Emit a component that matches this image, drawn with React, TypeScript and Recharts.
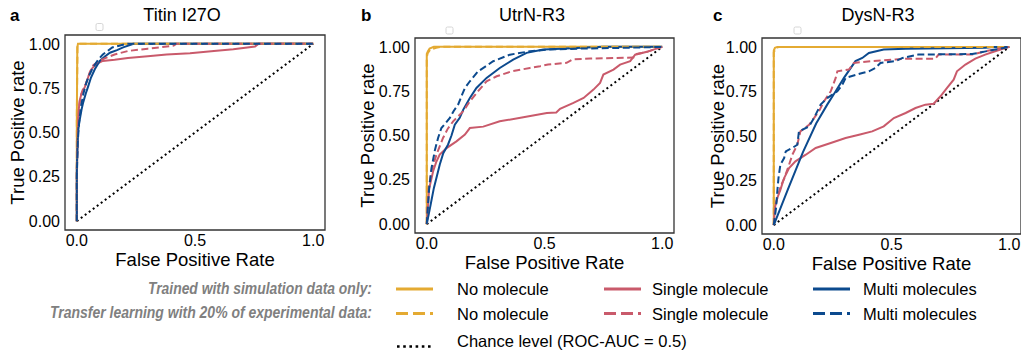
import React from 'react';
import { LineChart, Line, XAxis, YAxis, ReferenceArea } from 'recharts';

type Pt = [number, number];

// ---------- axis ticks ----------
const FPR_TICKS = [0, 0.5, 1];
const TPR_TICKS = [0, 0.25, 0.5, 0.75, 1];
const CHANCE: Pt[] = [[0, 0], [1, 1]];

// ---------- panel a : Titin I27O ----------
const titinNoneSim: Pt[] = [[0, 0], [0, 0.55], [0.002, 0.98], [0.005, 1], [1, 1]];
const titinNoneTL: Pt[] = [[0, 0], [0, 0.6], [0.003, 0.99], [0.008, 1], [1, 1]];
const titinSingleSim: Pt[] = [[0, 0], [0, 0.25], [0.003, 0.45], [0.006, 0.6], [0.012, 0.68], [0.02, 0.72], [0.035, 0.76], [0.05, 0.82], [0.062, 0.857], [0.08, 0.885], [0.11, 0.904], [0.16, 0.91], [0.216, 0.92], [0.3, 0.93], [0.38, 0.94], [0.479, 0.947], [0.58, 0.96], [0.662, 0.97], [0.754, 0.985], [0.768, 1], [1, 1]];
const titinSingleTL: Pt[] = [[0, 0], [0, 0.3], [0.004, 0.5], [0.008, 0.62], [0.015, 0.7], [0.025, 0.74], [0.04, 0.78], [0.055, 0.84], [0.07, 0.88], [0.09, 0.9], [0.12, 0.92], [0.16, 0.94], [0.217, 0.96], [0.3, 0.973], [0.35, 0.98], [0.41, 0.99], [0.42, 1], [1, 1]];
const titinMultiSim: Pt[] = [[0, 0], [0, 0.3], [0.005, 0.5], [0.01, 0.555], [0.02, 0.63], [0.027, 0.67], [0.038, 0.72], [0.048, 0.76], [0.06, 0.81], [0.076, 0.857], [0.097, 0.904], [0.12, 0.93], [0.14, 0.95], [0.17, 0.965], [0.196, 0.98], [0.24, 1], [1, 1]];
const titinMultiTL: Pt[] = [[0, 0], [0, 0.25], [0.004, 0.45], [0.01, 0.56], [0.018, 0.65], [0.028, 0.72], [0.04, 0.78], [0.055, 0.83], [0.07, 0.87], [0.09, 0.91], [0.11, 0.94], [0.13, 0.96], [0.15, 0.98], [0.21, 1], [1, 1]];

// ---------- panel b : UtrN-R3 ----------
const utrnNoneSim: Pt[] = [[0, 0], [0, 0.96], [0.005, 0.975], [0.012, 0.99], [0.03, 1], [1, 1]];
const utrnNoneTL: Pt[] = [[0, 0], [0, 0.94], [0.004, 0.965], [0.015, 0.985], [0.04, 0.995], [0.06, 1], [1, 1]];
const utrnSingleSim: Pt[] = [[0, 0], [0.005, 0.1], [0.01, 0.2], [0.027, 0.298], [0.04, 0.35], [0.055, 0.392], [0.084, 0.429], [0.126, 0.467], [0.162, 0.505], [0.183, 0.542], [0.24, 0.55], [0.31, 0.58], [0.41, 0.603], [0.51, 0.627], [0.55, 0.63], [0.566, 0.651], [0.623, 0.684], [0.666, 0.712], [0.708, 0.759], [0.736, 0.797], [0.75, 0.844], [0.793, 0.872], [0.821, 0.9], [0.864, 0.919], [0.885, 0.956], [0.935, 0.972], [0.984, 0.994], [1, 1]];
const utrnSingleTL: Pt[] = [[0, 0], [0.003, 0.1], [0.008, 0.2], [0.02, 0.3], [0.041, 0.392], [0.069, 0.486], [0.09, 0.54], [0.112, 0.58], [0.155, 0.637], [0.183, 0.693], [0.218, 0.75], [0.254, 0.806], [0.297, 0.834], [0.36, 0.862], [0.438, 0.881], [0.481, 0.891], [0.515, 0.9], [0.594, 0.91], [0.62, 0.93], [0.694, 0.934], [0.878, 0.94], [0.892, 0.96], [0.935, 0.972], [0.977, 0.99], [1, 1]];
const utrnMultiSim: Pt[] = [[0, 0], [0.015, 0.1], [0.03, 0.203], [0.055, 0.335], [0.07, 0.4], [0.09, 0.448], [0.105, 0.5], [0.119, 0.561], [0.14, 0.6], [0.155, 0.646], [0.183, 0.712], [0.211, 0.768], [0.254, 0.825], [0.31, 0.881], [0.367, 0.928], [0.424, 0.966], [0.495, 0.985], [0.57, 0.99], [0.75, 1], [1, 1]];
const utrnMultiTL: Pt[] = [[0, 0], [0.005, 0.1], [0.01, 0.2], [0.02, 0.316], [0.035, 0.42], [0.048, 0.486], [0.062, 0.542], [0.08, 0.57], [0.098, 0.599], [0.115, 0.64], [0.133, 0.674], [0.15, 0.73], [0.162, 0.768], [0.183, 0.806], [0.218, 0.862], [0.25, 0.89], [0.282, 0.919], [0.353, 0.956], [0.438, 0.975], [0.52, 0.985], [0.65, 0.99], [0.85, 0.995], [1, 1]];

// ---------- panel c : DysN-R3 ----------
const dysnNoneSim: Pt[] = [[0, 0], [0, 0.98], [0.005, 0.995], [0.015, 1], [1, 1]];
const dysnNoneTL: Pt[] = [[0, 0], [0, 0.97], [0.008, 0.99], [0.02, 1], [1, 1]];
const dysnSingleSim: Pt[] = [[0, 0], [0.005, 0.1], [0.015, 0.152], [0.028, 0.198], [0.044, 0.264], [0.065, 0.32], [0.092, 0.358], [0.136, 0.395], [0.178, 0.433], [0.242, 0.461], [0.305, 0.489], [0.362, 0.507], [0.418, 0.526], [0.467, 0.554], [0.51, 0.601], [0.56, 0.629], [0.602, 0.657], [0.644, 0.676], [0.679, 0.681], [0.708, 0.723], [0.736, 0.77], [0.764, 0.816], [0.778, 0.863], [0.814, 0.901], [0.856, 0.934], [0.898, 0.957], [0.94, 0.976], [1, 1]];
const dysnSingleTL: Pt[] = [[0, 0], [0.005, 0.1], [0.015, 0.152], [0.03, 0.22], [0.045, 0.264], [0.065, 0.339], [0.079, 0.395], [0.1, 0.451], [0.113, 0.526], [0.15, 0.563], [0.192, 0.639], [0.213, 0.694], [0.242, 0.751], [0.263, 0.826], [0.27, 0.863], [0.319, 0.873], [0.34, 0.91], [0.418, 0.92], [0.517, 0.929], [0.56, 0.934], [0.686, 0.934], [0.7, 0.957], [0.843, 0.957], [0.898, 0.976], [0.953, 0.99], [1, 1]];
const dysnMultiSim: Pt[] = [[0, 0], [0.06, 0.2], [0.124, 0.41], [0.18, 0.57], [0.227, 0.676], [0.263, 0.751], [0.298, 0.826], [0.347, 0.92], [0.376, 0.938], [0.404, 0.966], [0.467, 0.985], [0.56, 0.99], [0.9, 0.995], [0.93, 1], [1, 1]];
const dysnMultiTL: Pt[] = [[0, 0], [0.01, 0.1], [0.015, 0.19], [0.02, 0.264], [0.028, 0.339], [0.044, 0.376], [0.051, 0.414], [0.079, 0.433], [0.1, 0.451], [0.107, 0.526], [0.15, 0.554], [0.171, 0.601], [0.199, 0.676], [0.227, 0.713], [0.27, 0.751], [0.291, 0.788], [0.305, 0.826], [0.376, 0.854], [0.404, 0.863], [0.432, 0.882], [0.453, 0.91], [0.517, 0.92], [0.547, 0.938], [0.614, 0.957], [0.843, 0.96], [0.9, 0.975], [0.94, 0.985], [1, 1]];

// ---------- legend text ----------
const LEGEND_ROW_TITLES = ['Trained with simulation data only:', 'Transfer learning with 20% of experimental data:'];
const LEGEND_NAMES = ['No molecule', 'Single molecule', 'Multi molecules'];
const CHANCE_NAME = 'Chance level (ROC-AUC = 0.5)';

const COLORS = ['#E4AA32', '#C95A6B', '#0C4A8E'];
const FONT = '"Liberation Sans", Arial, Helvetica, sans-serif';
const DOMAIN: [number, number] = [-0.05, 1.05];
const CH = 280;
const DASH = '7 3.5';

const rows = (pts: Pt[]) => pts.map(([fpr, tpr]) => ({ fpr, tpr }));

interface PanelCfg {
  left: number;
  width: number;
  yAxisWidth: number;
  marginRight: number;
  plotTop: number;
  plotBottom: number;
  xLabelOffset: number;
  yLabelOffset: number;
  series: { sim: Pt[]; tl: Pt[] }[];
}

const PANELS: PanelCfg[] = [
  {
    left: 0, width: 340, yAxisWidth: 65, marginRight: 15, plotTop: 35, plotBottom: 230, xLabelOffset: 14, yLabelOffset: 17,
    series: [
      { sim: titinNoneSim, tl: titinNoneTL },
      { sim: titinSingleSim, tl: titinSingleTL },
      { sim: titinMultiSim, tl: titinMultiTL },
    ],
  },
  {
    left: 345, width: 335, yAxisWidth: 70, marginRight: 6, plotTop: 38, plotBottom: 233, xLabelOffset: 11, yLabelOffset: 22,
    series: [
      { sim: utrnNoneSim, tl: utrnNoneTL },
      { sim: utrnSingleSim, tl: utrnSingleTL },
      { sim: utrnMultiSim, tl: utrnMultiTL },
    ],
  },
  {
    left: 690, width: 331, yAxisWidth: 72, marginRight: 0, plotTop: 38, plotBottom: 234, xLabelOffset: 10, yLabelOffset: 27,
    series: [
      { sim: dysnNoneSim, tl: dysnNoneTL },
      { sim: dysnSingleSim, tl: dysnSingleTL },
      { sim: dysnMultiSim, tl: dysnMultiTL },
    ],
  },
];

const TITLES = [
  { letter: 'a', lx: 10, title: 'Titin I27O', tx: 182, box: 96 },
  { letter: 'b', lx: 361, title: 'UtrN-R3', tx: 532, box: 446 },
  { letter: 'c', lx: 713, title: 'DysN-R3', tx: 878, box: 794 },
];

function Panel({ cfg }: { cfg: PanelCfg }) {
  const lines: React.ReactNode[] = [];
  cfg.series.forEach((s, i) => {
    lines.push(
      <Line key={`sim${i}`} data={rows(s.sim)} dataKey="tpr" type="linear" stroke={COLORS[i]} strokeWidth={2} dot={false} activeDot={false} isAnimationActive={false} />
    );
  });
  cfg.series.forEach((s, i) => {
    lines.push(
      <Line key={`tl${i}`} data={rows(s.tl)} dataKey="tpr" type="linear" stroke={COLORS[i]} strokeWidth={2} strokeDasharray={DASH} dot={false} activeDot={false} isAnimationActive={false} />
    );
  });
  return (
    <div style={{ position: 'absolute', left: cfg.left, top: 0 }}>
      <LineChart width={cfg.width} height={CH} margin={{ top: cfg.plotTop, right: cfg.marginRight, left: 0, bottom: 0 }}>
        <XAxis
          type="number"
          dataKey="fpr"
          domain={DOMAIN}
          allowDataOverflow
          ticks={FPR_TICKS}
          tickFormatter={(v: number) => v.toFixed(1)}
          tickLine={false}
          axisLine={false}
          tickSize={0}
          tickMargin={5}
          height={CH - cfg.plotBottom}
          tick={{ fontSize: 16, fill: '#000', fontFamily: FONT }}
          label={{ value: 'False Positive Rate', position: 'insideBottom', offset: cfg.xLabelOffset, fontSize: 18.5, fill: '#000', fontFamily: FONT }}
        />
        <YAxis
          type="number"
          dataKey="tpr"
          domain={DOMAIN}
          allowDataOverflow
          ticks={TPR_TICKS}
          tickFormatter={(v: number) => v.toFixed(2)}
          tickLine={false}
          axisLine={false}
          tickSize={0}
          tickMargin={5}
          width={cfg.yAxisWidth}
          tick={{ fontSize: 16, fill: '#000', fontFamily: FONT }}
          label={{ value: 'True Positive rate', angle: -90, position: 'insideLeft', offset: cfg.yLabelOffset, fontSize: 18.5, fill: '#000', fontFamily: FONT, style: { textAnchor: 'middle' } }}
        />
        <ReferenceArea x1={DOMAIN[0]} x2={DOMAIN[1]} y1={DOMAIN[0]} y2={DOMAIN[1]} fill="none" fillOpacity={0} stroke="#333" strokeWidth={1.3} ifOverflow="visible" />
        <Line data={rows(CHANCE)} dataKey="tpr" type="linear" stroke="#000" strokeWidth={2} strokeDasharray="2 3" dot={false} activeDot={false} isAnimationActive={false} />
        {lines}
      </LineChart>
    </div>
  );
}

function Overlay() {
  const colX = [396, 604, 813];
  const textX = [457, 652, 863];
  const rowY = [289, 313.5];
  const rowBase = [295, 320];
  return (
    <svg width={1021} height={350} style={{ position: 'absolute', left: 0, top: 0, pointerEvents: 'none' }}>
      {TITLES.map((t) => (
        <g key={t.letter}>
          <text x={t.lx} y={20.5} fontSize={17} fontWeight="bold" fill="#000" fontFamily={FONT}>{t.letter}</text>
          <text x={t.tx} y={21} fontSize={18} textAnchor="middle" fill="#000" fontFamily={FONT}>{t.title}</text>
          <rect x={t.box} y={t.box === 96 ? 23.5 : 27} width={7} height={7} rx={1.5} fill="#fff" stroke="#ccc" strokeWidth={0.8} />
        </g>
      ))}
      <text x={372} y={293.5} textAnchor="end" fontSize={16} fontWeight="bold" fontStyle="italic" fill="#808080" fontFamily={FONT} textLength={224} lengthAdjust="spacingAndGlyphs">{LEGEND_ROW_TITLES[0]}</text>
      <text x={372} y={318} textAnchor="end" fontSize={16} fontWeight="bold" fontStyle="italic" fill="#808080" fontFamily={FONT} textLength={322} lengthAdjust="spacingAndGlyphs">{LEGEND_ROW_TITLES[1]}</text>
      {LEGEND_NAMES.map((name, i) => (
        <g key={name}>
          <line x1={colX[i]} x2={colX[i] + 37} y1={rowY[0]} y2={rowY[0]} stroke={COLORS[i]} strokeWidth={2.8} />
          <text x={textX[i]} y={rowBase[0]} fontSize={16.5} fill="#000" fontFamily={FONT}>{name}</text>
          <line x1={colX[i]} x2={colX[i] + 37} y1={rowY[1]} y2={rowY[1]} stroke={COLORS[i]} strokeWidth={2.8} strokeDasharray="12 5" />
          <text x={textX[i]} y={rowBase[1]} fontSize={16.5} fill="#000" fontFamily={FONT}>{name}</text>
        </g>
      ))}
      <line x1={397} x2={433} y1={346.5} y2={346.5} stroke="#000" strokeWidth={2.6} strokeDasharray="2.6 3.6" />
      <text x={457} y={347} fontSize={16.5} fill="#000" fontFamily={FONT}>{CHANCE_NAME}</text>
    </svg>
  );
}

export default function App() {
  return (
    <div style={{ position: 'absolute', left: 0, top: 0, width: 1021, height: 350, background: '#fff', fontFamily: FONT, overflow: 'hidden' }}>
      {PANELS.map((p, i) => (
        <Panel key={i} cfg={p} />
      ))}
      <Overlay />
    </div>
  );
}
